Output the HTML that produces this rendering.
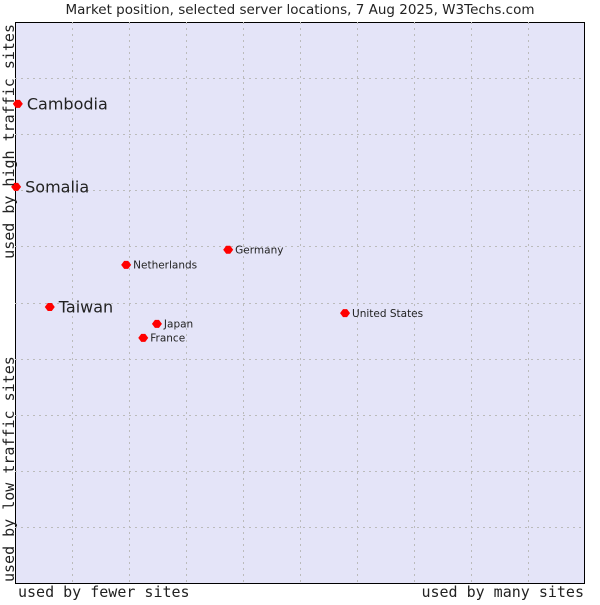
<!DOCTYPE html>
<html><head><meta charset="utf-8"><style>
body{margin:0;background:#fff;width:600px;height:600px;overflow:hidden}
svg text{font-family:"DejaVu Sans","Liberation Sans",sans-serif;fill:#222}
.mono{font-family:"DejaVu Sans Mono",monospace}
</style></head><body>
<svg id="chart" width="600" height="600">
<text x="300" y="14" text-anchor="middle" font-size="13.5">Market position, selected server locations, 7 Aug 2025, W3Techs.com</text>
<rect x="15.5" y="22.5" width="569" height="561" fill="#e4e4f8" stroke="#000"/>
<g id="grid"></g>
<g id="points"></g>
<text x="18" y="597" class="mono" font-size="15" style="font-family:'DejaVu Sans Mono',monospace">used by fewer sites</text>
<text x="584" y="597" text-anchor="end" font-size="15" style="font-family:'DejaVu Sans Mono',monospace">used by many sites</text>
<text transform="translate(14,582) rotate(-90)" font-size="15" style="font-family:'DejaVu Sans Mono',monospace">used by low traffic sites</text>
<text transform="translate(14,24) rotate(-90)" text-anchor="end" font-size="15" style="font-family:'DejaVu Sans Mono',monospace">used by high traffic sites</text>
</svg>
<script>
const names=["Cambodia","Somalia","Germany","Netherlands","Taiwan","United States","Japan","France"];
const xVals=[0.5,0.2,37.4,19.5,6.1,57.9,24.9,22.5];
const yVals=[85.4,70.6,59.4,56.7,49.2,48.1,46.2,43.7];
const bigLabel=[true,true,false,false,true,false,false,false];
const NS="http://www.w3.org/2000/svg";
const X0=15,X1=585,Y0=583,Y1=22;
const sx=v=>X0+v/100*(X1-X0), sy=v=>Y0-v/100*(Y0-Y1);
const grid=document.getElementById('grid');
for(let i=1;i<10;i++){
  const gx=Math.round(X0+57*i)+0.5;
  const l=document.createElementNS(NS,'line');
  
  
  l.setAttribute('x1',gx);l.setAttribute('x2',gx);l.setAttribute('y1',Y1);l.setAttribute('y2',Y0);
  l.setAttribute('stroke','#bbb');l.setAttribute('stroke-dasharray','2,4');grid.appendChild(l);
  const gy=Math.round(Y1+(Y0-Y1)/10*i)+0.5;
  const h=document.createElementNS(NS,'line');
  
  
  h.setAttribute('x1',X0);h.setAttribute('x2',X1);h.setAttribute('y1',gy);h.setAttribute('y2',gy);
  h.setAttribute('stroke','#bbb');h.setAttribute('stroke-dasharray','2,4');grid.appendChild(h);
}
const pts=document.getElementById('points');
names.forEach((n,i)=>{
  const x=sx(xVals[i]),y=sy(yVals[i]);
  const d=document.createElementNS(NS,'path');
  
  
  d.setAttribute('d',`M${x-5},${y}L${x-2},${y-4}L${x+2},${y-4}L${x+5},${y}L${x+2},${y+4}L${x-2},${y+4}Z`);
  d.setAttribute('fill','#f00');pts.appendChild(d);
  const t=document.createElementNS(NS,'text');
  
  
  const fs=bigLabel[i]?16:10.5;
  t.setAttribute('x',x+(bigLabel[i]?9:7));t.setAttribute('y',y+fs*0.36);
  t.setAttribute('font-size',fs);t.textContent=n;pts.appendChild(t);
});
</script>
</body></html>
